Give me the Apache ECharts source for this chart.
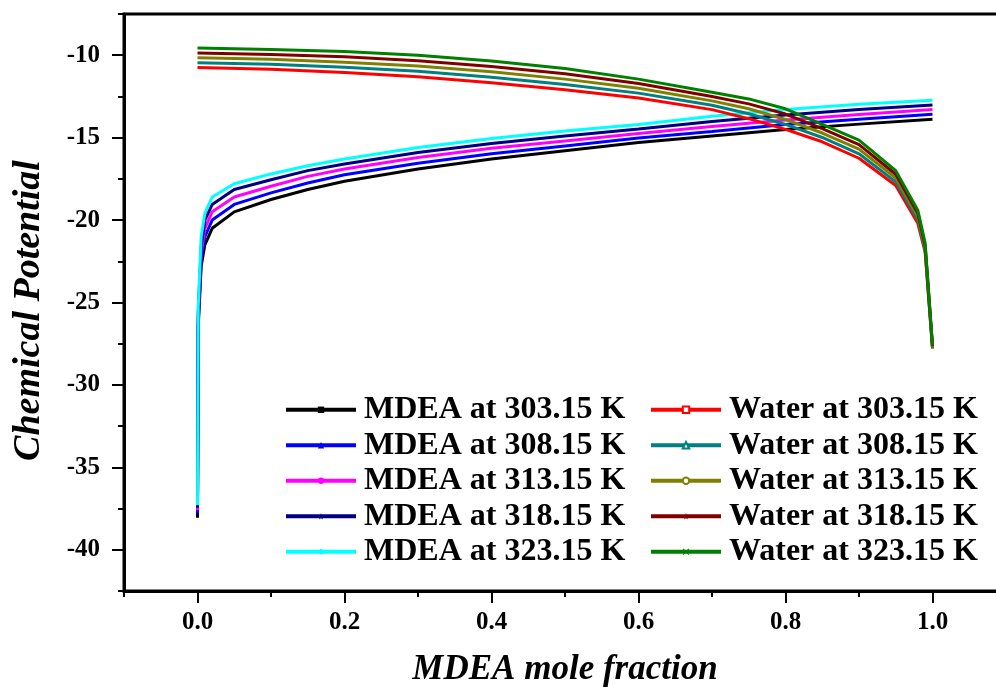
<!DOCTYPE html>
<html>
<head>
<meta charset="utf-8">
<script src="https://cdn.jsdelivr.net/npm/echarts@6/dist/echarts.min.js"></script>
<style>
  html, body { margin: 0; padding: 0; background: #fff; overflow: hidden; }
  #chart { width: 996px; height: 687px; }
</style>
</head>
<body>
<div id="chart"></div>
<script>
// Mole fractions of MDEA at which each curve is sampled
const mdeaX = [0, 0.001, 0.005, 0.01, 0.02, 0.05, 0.1, 0.15, 0.2, 0.3, 0.4, 0.5, 0.6, 0.7, 0.8, 0.9, 1.0];
const waterX = [0, 0.1, 0.2, 0.3, 0.4, 0.5, 0.6, 0.7, 0.75, 0.8, 0.85, 0.9, 0.95, 0.98, 0.99, 1.0];

// Chemical potential of MDEA
const mdea303 = [-38.05, -26.5, -22.8, -21.5, -20.5, -19.5, -18.75, -18.15, -17.65, -16.9, -16.3, -15.8, -15.3, -14.9, -14.5, -14.18, -13.88];
const mdea308 = [-37.8, -26.2, -22.4, -21.0, -20.0, -19.05, -18.35, -17.75, -17.25, -16.55, -15.98, -15.5, -15.02, -14.63, -14.2, -13.88, -13.58];
const mdea313 = [-37.6, -25.9, -22.0, -20.5, -19.5, -18.6, -17.95, -17.35, -16.9, -16.2, -15.65, -15.2, -14.75, -14.33, -13.93, -13.6, -13.3];
const mdea318 = [-37.45, -25.6, -21.6, -20.0, -19.05, -18.15, -17.55, -17.0, -16.6, -15.9, -15.35, -14.9, -14.47, -14.02, -13.62, -13.3, -13.02];
const mdea323 = [-37.3, -25.3, -21.0, -19.6, -18.6, -17.8, -17.2, -16.7, -16.3, -15.6, -15.05, -14.6, -14.2, -13.7, -13.3, -12.98, -12.73];

// Chemical potential of water
const water303 = [-10.75, -10.85, -11.05, -11.3, -11.67, -12.1, -12.6, -13.3, -13.85, -14.5, -15.25, -16.25, -17.9, -20.2, -21.95, -27.8];
const water308 = [-10.45, -10.55, -10.73, -10.97, -11.33, -11.77, -12.3, -13.03, -13.55, -14.2, -14.99, -15.98, -17.68, -19.98, -21.82, -27.75];
const water313 = [-10.15, -10.25, -10.43, -10.65, -11.0, -11.45, -12.0, -12.77, -13.25, -13.9, -14.72, -15.7, -17.45, -19.78, -21.68, -27.7];
const water318 = [-9.86, -9.95, -10.1, -10.33, -10.68, -11.12, -11.72, -12.5, -12.95, -13.57, -14.45, -15.42, -17.22, -19.58, -21.55, -27.65];
const water323 = [-9.56, -9.65, -9.78, -10.0, -10.35, -10.8, -11.45, -12.25, -12.65, -13.25, -14.2, -15.15, -17.0, -19.4, -21.4, -27.6];

const mdeaNames = ['MDEA at 303.15 K', 'MDEA at 308.15 K', 'MDEA at 313.15 K', 'MDEA at 318.15 K', 'MDEA at 323.15 K'];
const waterNames = ['Water at 303.15 K', 'Water at 308.15 K', 'Water at 313.15 K', 'Water at 318.15 K', 'Water at 323.15 K'];

// Axis tick labels
const xTickLabels = [0, 0.2, 0.4, 0.6, 0.8, 1.0];
const yTickLabels = [-40, -35, -30, -25, -20, -15, -10];

const FONT = '"Liberation Serif", "Times New Roman", serif';
const STAR = 'path://M50,0 L61,35 L98,35 L68,57 L79,91 L50,70 L21,91 L32,57 L2,35 L39,35 Z';
const CROSS = 'path://M0,10 L10,0 L50,40 L90,0 L100,10 L60,50 L100,90 L90,100 L50,60 L10,100 L0,90 L40,50 Z';

const mdeaStyle = [
  { color: '#000000', symbol: 'rect' },
  { color: '#0000ff', symbol: 'triangle' },
  { color: '#ff00ff', symbol: 'circle' },
  { color: '#000080', symbol: STAR },
  { color: '#00ffff', symbol: 'diamond' }
];
const waterStyle = [
  { color: '#ff0000', symbol: 'emptyRect' },
  { color: '#008080', symbol: 'emptyTriangle' },
  { color: '#808000', symbol: 'emptyCircle' },
  { color: '#800000', symbol: STAR },
  { color: '#008000', symbol: CROSS }
];

function pairs(xs, ys) { return xs.map((x, i) => [x, ys[i]]); }

function lineSeries(name, xs, ys, st) {
  return {
    name: name,
    type: 'line',
    xAxisIndex: 0,
    yAxisIndex: 0,
    data: pairs(xs, ys),
    showSymbol: false,
    symbol: st.symbol,
    symbolSize: 7,
    smooth: false,
    lineStyle: { width: 3, color: st.color },
    itemStyle: { color: st.color },
    emphasis: { disabled: true },
    animation: false
  };
}

const mdeaData = [mdea303, mdea308, mdea313, mdea318, mdea323];
const waterData = [water303, water308, water313, water318, water323];

const series = [];
mdeaData.forEach((d, i) => series.push(lineSeries(mdeaNames[i], mdeaX, d, mdeaStyle[i])));
waterData.forEach((d, i) => series.push(lineSeries(waterNames[i], waterX, d, waterStyle[i])));

const legendBase = {
  orient: 'vertical',
  top: 392,
  padding: 0,
  itemWidth: 70,
  itemHeight: 8,
  itemGap: 0,
  selectedMode: false,
  lineStyle: { width: 4 },
  textStyle: {
    fontFamily: FONT, fontWeight: 'bold', fontSize: 32, color: '#000',
    lineHeight: 35.5, padding: [0, 0, 0, 3]
  }
};

const chart = echarts.init(document.getElementById('chart'), null, { renderer: 'canvas' });
chart.setOption({
  backgroundColor: '#ffffff',
  animation: false,
  grid: {
    left: 124, top: 14, width: 882, bottom: 96,
    outerBoundsMode: 'none',
    containLabel: false,
    show: true, borderColor: '#000', borderWidth: 3, backgroundColor: 'transparent'
  },
  legend: [
    Object.assign({}, legendBase, { left: 284, data: mdeaNames }),
    Object.assign({}, legendBase, { left: 649, data: waterNames })
  ],
  xAxis: [
    {
      type: 'value', min: -0.1, max: 1.1, interval: 0.1,
      name: 'MDEA mole fraction', nameLocation: 'middle', nameGap: 61,
      nameTextStyle: { fontFamily: FONT, fontWeight: 'bold', fontStyle: 'italic', fontSize: 35, color: '#000' },
      axisLine: { show: true, onZero: false, lineStyle: { color: '#000', width: 3 } },
      axisTick: { show: true, inside: false, length: 6, lineStyle: { color: '#000', width: 2 } },
      axisLabel: {
        show: true, margin: 19,
        fontFamily: FONT, fontWeight: 'bold', fontSize: 25, color: '#000',
        formatter: function (v) {
          const r = Math.round(v * 10);
          return (r % 2 === 0 && r >= 0 && r <= 10) ? (r / 10).toFixed(1) : '';
        }
      },
      splitLine: { show: false }
    },
    {
      type: 'value', min: -0.1, max: 1.1, position: 'bottom',
      axisLine: { show: false, onZero: false },
      axisTick: { show: true, inside: false, length: 12, customValues: xTickLabels, lineStyle: { color: '#000', width: 2 } },
      axisLabel: { show: false },
      splitLine: { show: false }
    }
  ],
  yAxis: [
    {
      type: 'value', min: -42.5, max: -7.5, interval: 2.5,
      name: 'Chemical Potential', nameLocation: 'middle', nameGap: 76,
      nameTextStyle: { fontFamily: FONT, fontWeight: 'bold', fontStyle: 'italic', fontSize: 38, color: '#000', padding: [0, 16, 0, 0] },
      axisLine: { show: true, onZero: false, lineStyle: { color: '#000', width: 3 } },
      axisTick: { show: true, inside: false, length: 6, lineStyle: { color: '#000', width: 2 } },
      axisLabel: {
        show: true, margin: 24,
        fontFamily: FONT, fontWeight: 'bold', fontSize: 25, color: '#000',
        formatter: function (v) { return Math.abs(v % 5) < 1e-9 ? String(v) : ''; }
      },
      splitLine: { show: false }
    },
    {
      type: 'value', min: -42.5, max: -7.5, position: 'left',
      axisLine: { show: false, onZero: false },
      axisTick: { show: true, inside: false, length: 12, customValues: yTickLabels, lineStyle: { color: '#000', width: 2 } },
      axisLabel: { show: false },
      splitLine: { show: false }
    }
  ],
  series: series
});
</script>
</body>
</html>
